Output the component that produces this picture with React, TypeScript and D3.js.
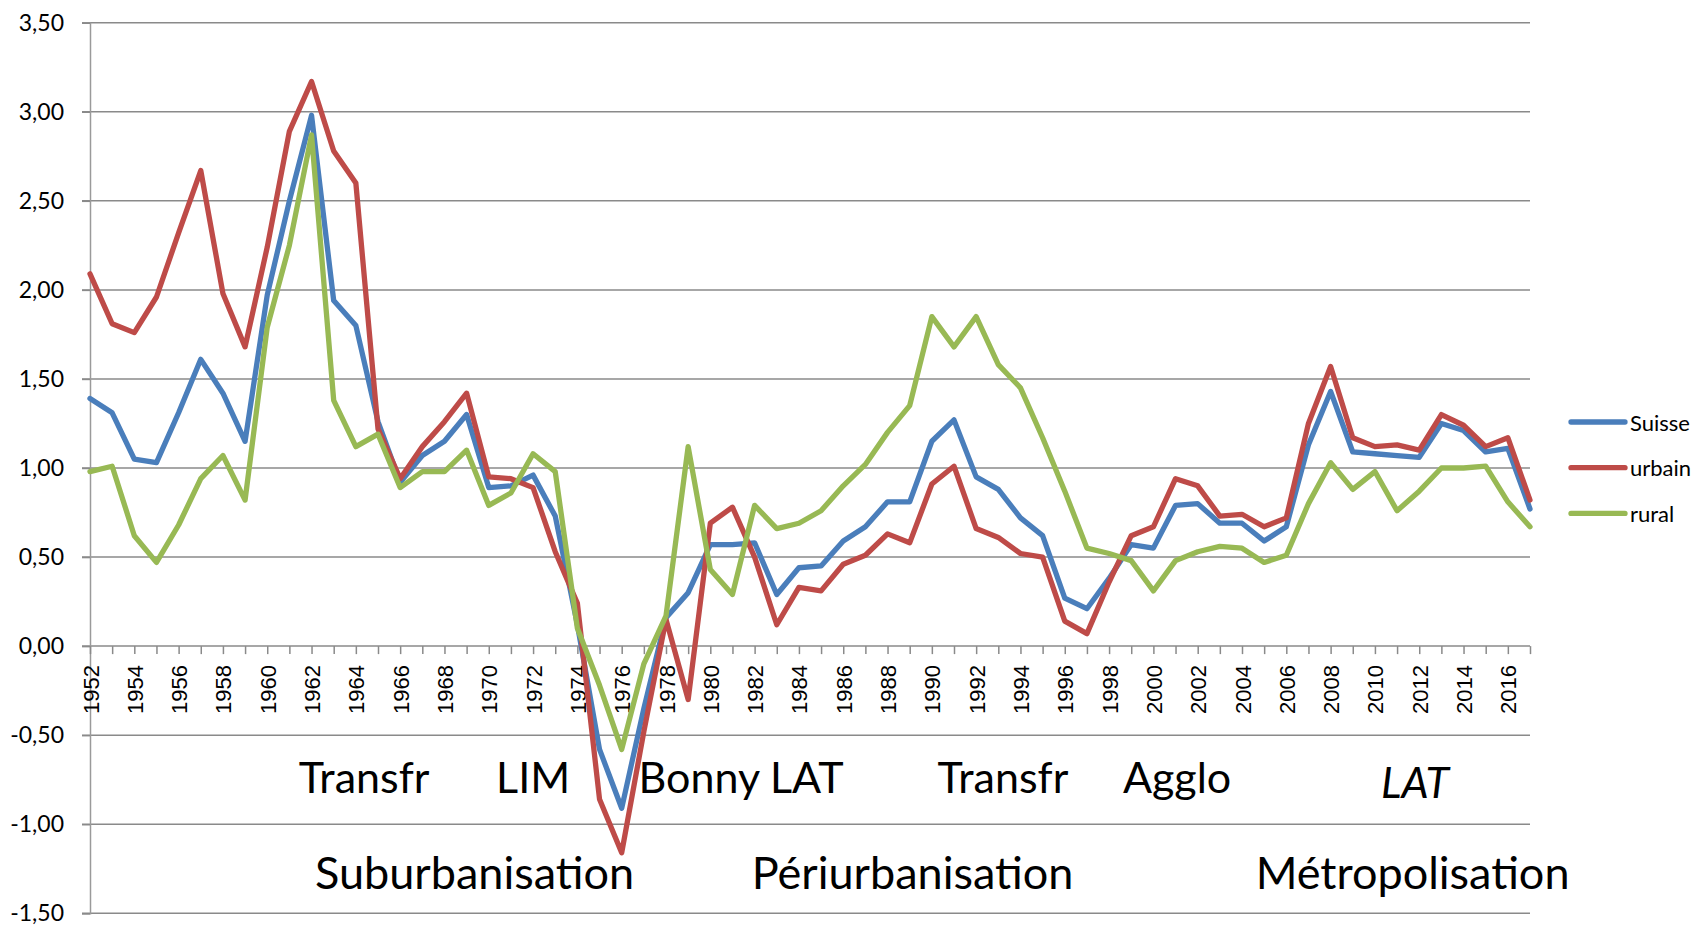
import React, { useEffect, useRef } from "react";
import * as d3 from "d3";

// Categories (years)
const years = d3.range(1952, 2018);

// Series values
const suisse = [
  1.39, 1.31, 1.05, 1.03, 1.31, 1.61, 1.42, 1.15, 1.97, 2.5,
  2.98, 1.94, 1.8, 1.26, 0.92, 1.07, 1.15, 1.3, 0.89, 0.9,
  0.96, 0.73, 0.12, -0.58, -0.91, -0.35, 0.16, 0.3, 0.57, 0.57,
  0.58, 0.29, 0.44, 0.45, 0.59, 0.67, 0.81, 0.81, 1.15, 1.27,
  0.95, 0.88, 0.72, 0.62, 0.27, 0.21, 0.38, 0.57, 0.55, 0.79,
  0.8, 0.69, 0.69, 0.59, 0.67, 1.13, 1.43, 1.09, 1.08, 1.07,
  1.06, 1.25, 1.21, 1.09, 1.11, 0.77,
];
const urbain = [
  2.09, 1.81, 1.76, 1.96, 2.32, 2.67, 1.98, 1.68, 2.24, 2.89,
  3.17, 2.78, 2.6, 1.22, 0.94, 1.12, 1.26, 1.42, 0.95, 0.94,
  0.89, 0.53, 0.24, -0.86, -1.16, -0.48, 0.15, -0.3, 0.69, 0.78,
  0.5, 0.12, 0.33, 0.31, 0.46, 0.51, 0.63, 0.58, 0.91, 1.01,
  0.66, 0.61, 0.52, 0.5, 0.14, 0.07, 0.36, 0.62, 0.67, 0.94,
  0.9, 0.73, 0.74, 0.67, 0.72, 1.25, 1.57, 1.17, 1.12, 1.13,
  1.1, 1.3, 1.24, 1.12, 1.17, 0.82,
];
const rural = [
  0.98, 1.01, 0.62, 0.47, 0.68, 0.94, 1.07, 0.82, 1.79, 2.25,
  2.87, 1.38, 1.12, 1.19, 0.89, 0.98, 0.98, 1.1, 0.79, 0.86,
  1.08, 0.98, 0.1, -0.22, -0.58, -0.1, 0.17, 1.12, 0.43, 0.29,
  0.79, 0.66, 0.69, 0.76, 0.9, 1.02, 1.2, 1.35, 1.85, 1.68,
  1.85, 1.58, 1.45, 1.17, 0.87, 0.55, 0.52, 0.48, 0.31, 0.48,
  0.53, 0.56, 0.55, 0.47, 0.51, 0.8, 1.03, 0.88, 0.98, 0.76,
  0.87, 1.0, 1.0, 1.01, 0.81, 0.67,
];

const seriesNames = ["Suisse", "urbain", "rural"];
const seriesValues = [suisse, urbain, rural];
const seriesColors = ["#4A7EBB", "#BE4B48", "#98B954"];

const yTicks = [-1.5, -1, -0.5, 0, 0.5, 1, 1.5, 2, 2.5, 3, 3.5];

// Phase annotations: text, centre year
const phaseTexts = ["Transfr", "LIM", "Bonny LAT", "Transfr", "Agglo", "LAT"];
const phaseYears = [1964.37, 1972.0, 1981.39, 1993.21, 2001.07, 2011.81];
const phaseItalic = [false, false, false, false, false, true];
const periodTexts = ["Suburbanisation", "Périurbanisation", "Métropolisation"];
const periodYears = [1969.36, 1989.13, 2011.7];

const W = 1696;
const H = 926;

const fmt = d3
  .formatLocale({ decimal: ",", thousands: " ", grouping: [3], currency: ["", ""], minus: "-" })
  .format(".2f");

const App = () => {
  const svgRef = useRef<SVGSVGElement>(null);

  useEffect(() => {
    const svg = d3.select(svgRef.current);
    svg.selectAll("*").remove();

    const x = d3.scaleLinear().domain([1952, 2017]).range([90, 1530]);
    const y = d3.scaleLinear().domain([-1.5, 3.5]).range([913.3, 22.7]);

    // gridlines
    svg
      .append("g")
      .selectAll("line")
      .data(yTicks)
      .enter()
      .append("line")
      .attr("x1", 82)
      .attr("x2", 1530)
      .attr("y1", (d) => y(d))
      .attr("y2", (d) => y(d))
      .attr("stroke", "#8a8a8a")
      .attr("stroke-width", 1.5);

    // y axis
    const yAxis = svg
      .append("g")
      .attr("transform", `translate(${x(1952)},0)`)
      .call(
        d3
          .axisLeft(y)
          .tickValues(yTicks)
          .tickSize(8)
          .tickPadding(18)
          .tickFormat((d) => fmt(d as number))
      );
    yAxis.select(".domain").attr("stroke", "#9a9a9a").attr("stroke-width", 1.5);
    yAxis.selectAll(".tick line").attr("stroke", "#8a8a8a").attr("stroke-width", 1.5);
    yAxis
      .selectAll("text")
      .attr("font-family", "Lato, 'Open Sans', sans-serif")
      .attr("font-size", 23)
      .attr("fill", "#000");

    // x axis at zero
    const xAxis = svg
      .append("g")
      .attr("transform", `translate(0,${y(0)})`)
      .call(
        d3
          .axisBottom(x)
          .tickValues(years)
          .tickSize(8)
          .tickFormat(() => "")
      );
    xAxis.select(".domain").remove();
    xAxis.selectAll(".tick line").attr("stroke", "#8a8a8a").attr("stroke-width", 1.5);

    svg
      .append("g")
      .selectAll("text")
      .data(years.filter((d) => d % 2 === 0))
      .enter()
      .append("text")
      .attr("transform", (d) => `translate(${x(d) + 1},${y(0) + 19}) rotate(-90)`)
      .attr("text-anchor", "end")
      .attr("dominant-baseline", "central")
      .attr("font-family", "'Liberation Sans', Arial, sans-serif")
      .attr("font-size", 22)
      .attr("fill", "#000")
      .text((d) => String(d));

    // lines
    const line = d3
      .line<number>()
      .x((_, i) => x(years[i]))
      .y((d) => y(d));

    seriesValues.forEach((vals, i) => {
      svg
        .append("path")
        .datum(vals)
        .attr("d", line)
        .attr("fill", "none")
        .attr("stroke", seriesColors[i])
        .attr("stroke-width", 5.3)
        .attr("stroke-linejoin", "round")
        .attr("stroke-linecap", "round");
    });

    // phase annotations
    svg
      .append("g")
      .selectAll("text")
      .data(phaseTexts)
      .enter()
      .append("text")
      .attr("x", (_, i) => x(phaseYears[i]))
      .attr("y", (_, i) => (phaseItalic[i] ? y(-0.85) : y(-0.825)))
      .attr("text-anchor", "middle")
      .attr("font-family", "Lato, 'Open Sans', sans-serif")
      .attr("font-size", 43)
      .attr("font-style", (_, i) => (phaseItalic[i] ? "italic" : "normal"))
      .attr("fill", "#000")
      .text((d) => d);

    svg
      .append("g")
      .selectAll("text")
      .data(periodTexts)
      .enter()
      .append("text")
      .attr("x", (_, i) => x(periodYears[i]))
      .attr("y", y(-1.365))
      .attr("text-anchor", "middle")
      .attr("font-family", "Lato, 'Open Sans', sans-serif")
      .attr("font-size", 45)
      .attr("fill", "#000")
      .text((d) => d);

    // legend
    const legend = svg
      .append("g")
      .selectAll("g")
      .data(seriesNames)
      .enter()
      .append("g")
      .attr("transform", (_, i) => `translate(1571,${422 + i * 45.7})`);
    legend
      .append("line")
      .attr("x1", 0)
      .attr("x2", 54)
      .attr("stroke", (_, i) => seriesColors[i])
      .attr("stroke-width", 5.3)
      .attr("stroke-linecap", "round");
    legend
      .append("text")
      .attr("x", 59)
      .attr("dominant-baseline", "central")
      .attr("font-family", "Lato, 'Open Sans', sans-serif")
      .attr("font-size", 22)
      .attr("fill", "#000")
      .text((d) => d);
  }, []);

  return (
    <svg
      ref={svgRef}
      width={W}
      height={H}
      style={{ position: "absolute", left: 0, top: 0, background: "#fff" }}
    ></svg>
  );
};

export default App;
